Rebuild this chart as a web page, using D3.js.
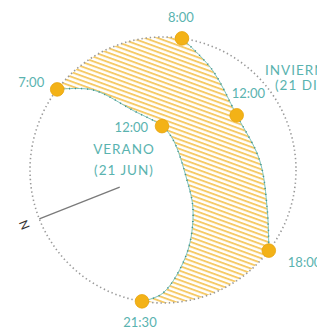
<!DOCTYPE html>
<html>
<head>
<meta charset="utf-8">
<script src="https://cdn.jsdelivr.net/npm/d3@7"></script>
<style>
  html, body { margin: 0; padding: 0; background: #fff; overflow: hidden; }
  svg { display: block; }
  .lbl { font-family: Lato, "Open Sans", sans-serif; font-size: 13px; fill: #5ab3af; }
  .season { letter-spacing: 1px; font-size: 13.5px; }
</style>
</head>
<body>
<svg id="chart" width="317" height="333"></svg>
<script>
// sun positions: azimuth in degrees (clockwise from top), radius as share of horizon circle
var summerAz = [307.3, 318.8, 333.4, 358.7, 18.4, 112.6, 143.1, 163.9, 180, 189.1],
    summerR  = [1.0, 0.80, 0.50, 0.33, 0.24, 0.195, 0.376, 0.65, 0.925, 1.0],
    summerHours = ['7:00', '', '', '12:00', '', '', '', '', '', '21:30'];

var winterAz = [8.2, 26.1, 53.4, 84.1, 111, 127.3],
    winterR  = [1.0, 0.84, 0.69, 0.73, 0.84, 1.0],
    winterHours = ['8:00', '', '12:00', '', '', '18:00'];

var northAz = 248.4,
    northR = [0.35, 1.0];

var seasonNames = ['VERANO', 'INVIERNO'],
    seasonDates = ['(21 JUN)', '(21 DIC)'];

// setup
var svg = d3.select('#chart'),
    cx = 163, cy = 170, R = 133;

var rScale = d3.scaleLinear().domain([0, 1]).range([0, R]),
    aScale = d3.scaleLinear().domain([0, 360]).range([0, 2 * Math.PI]);

function toPts(az, r, hours) {
  return az.map(function (a, i) { return { az: a, r: r[i], hour: hours ? hours[i] : '' }; });
}
var summer = toPts(summerAz, summerR, summerHours),
    winter = toPts(winterAz, winterR, winterHours);

function xy(d) {
  var a = aScale(d.az), rr = rScale(d.r);
  return [rr * Math.sin(a), -rr * Math.cos(a)];
}

var line = d3.lineRadial()
    .angle(function (d) { return aScale(d.az); })
    .radius(function (d) { return rScale(d.r); })
    .curve(d3.curveCatmullRom.alpha(0.5));

var g = svg.append('g').attr('transform', 'translate(' + cx + ',' + cy + ')');

// hatch pattern
var pat = svg.append('defs').append('pattern')
    .attr('id', 'hatch')
    .attr('patternUnits', 'userSpaceOnUse')
    .attr('width', 6).attr('height', 4.4)
    .attr('patternTransform', 'rotate(20)');
pat.append('rect').attr('width', 6).attr('height', 4.4).attr('fill', '#fff');
pat.append('rect').attr('y', 0).attr('width', 6).attr('height', 1.9).attr('fill', '#f6ca66');

// shaded band between the two paths
var p18 = xy(winter[winter.length - 1]),
    p7 = xy(summer[0]);
var area = line(summer) +
    'A' + R + ',' + R + ' 0 0 0 ' + p18[0] + ',' + p18[1] +
    line(winter.slice().reverse()).replace(/^M/, 'L') +
    'A' + R + ',' + R + ' 0 0 0 ' + p7[0] + ',' + p7[1] + 'Z';
g.append('path').attr('d', area).attr('fill', 'url(#hatch)');

// horizon circle
g.append('circle')
    .attr('r', rScale(1))
    .attr('fill', 'none')
    .attr('stroke', '#999')
    .attr('stroke-width', 1.6)
    .attr('stroke-dasharray', '1.4,2.8');

// north line
var n0 = xy({ az: northAz, r: northR[0] }), n1 = xy({ az: northAz, r: northR[1] });
g.append('line')
    .attr('x1', n0[0]).attr('y1', n0[1]).attr('x2', n1[0]).attr('y2', n1[1])
    .attr('stroke', '#7a7a7a').attr('stroke-width', 1.3);
var nl = xy({ az: northAz, r: 1.12 });
g.append('text')
    .attr('transform', 'translate(' + nl[0] + ',' + nl[1] + ') rotate(' + (northAz - 360) + ')')
    .attr('text-anchor', 'middle').attr('dy', '0.35em')
    .style('font-family', 'Lato, sans-serif').style('font-size', '12px').style('fill', '#333')
    .text('N');

// sun paths
[summer, winter].forEach(function (pts) {
  g.append('path').attr('d', line(pts))
      .attr('fill', 'none').attr('stroke', '#7cc3bd').attr('stroke-width', 1);
  g.append('path').attr('d', line(pts))
      .attr('fill', 'none').attr('stroke', '#3f8f87').attr('stroke-width', 1.6)
      .attr('stroke-dasharray', '1,5');
});

// hour dots
var marks = summer.concat(winter).filter(function (d) { return d.hour; });
g.selectAll('circle.sun').data(marks).enter().append('circle')
    .attr('class', 'sun')
    .attr('cx', function (d) { return xy(d)[0]; })
    .attr('cy', function (d) { return xy(d)[1]; })
    .attr('r', 6.8)
    .attr('fill', '#f3b217')
    .attr('stroke', '#e9a50c').attr('stroke-width', 0.8);

// hour labels: offsets from the dot
var offs = [
  { dx: -13, dy: -2.5, anchor: 'end' },   // 7:00
  { dx: -14, dy: 5.5, anchor: 'end' },    // 12:00 summer
  { dx: -2, dy: 25.5, anchor: 'middle' }, // 21:30
  { dx: -1, dy: -16.5, anchor: 'middle' },// 8:00
  { dx: -5, dy: -17.5, anchor: 'start' }, // 12:00 winter
  { dx: 19, dy: 16.5, anchor: 'start' }   // 18:00
];
g.selectAll('text.hour').data(marks).enter().append('text')
    .attr('class', 'lbl hour')
    .attr('x', function (d, i) { return xy(d)[0] + offs[i].dx; })
    .attr('y', function (d, i) { return xy(d)[1] + offs[i].dy; })
    .attr('text-anchor', function (d, i) { return offs[i].anchor; })
    .text(function (d) { return d.hour; });

// season labels
var seasonPos = [
  { x: 124 - cx, y: 153.5 - cy, dx2: 0, anchor: 'middle' },
  { x: 265 - cx, y: 75 - cy, dx2: 10, anchor: 'start' }
];
seasonNames.forEach(function (s, i) {
  var t = g.append('text').attr('class', 'lbl season')
      .attr('x', seasonPos[i].x).attr('y', seasonPos[i].y)
      .attr('text-anchor', seasonPos[i].anchor);
  t.append('tspan').text(s);
  t.append('tspan').attr('x', seasonPos[i].x + seasonPos[i].dx2).attr('dy', i ? 15 : 21).text(seasonDates[i]);
});
</script>
</body>
</html>
